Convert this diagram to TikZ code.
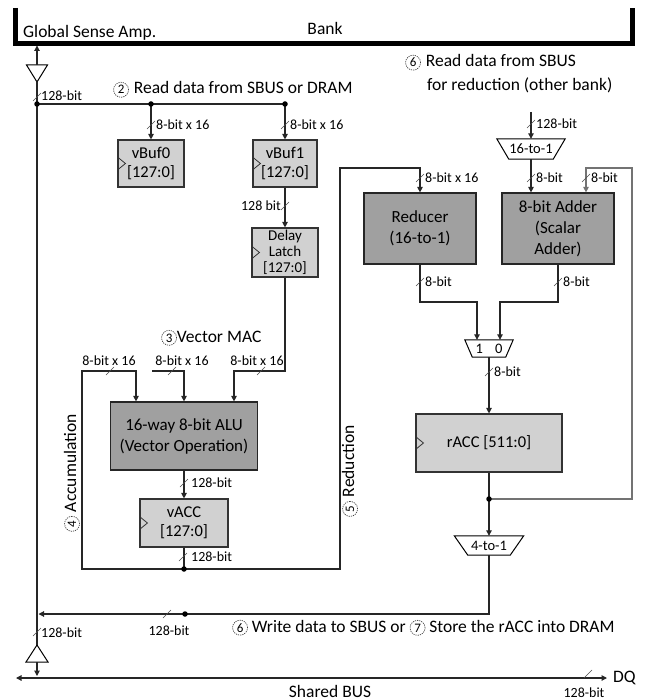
\documentclass[tikz,border=0pt]{standalone}
\usepackage{fontspec}
\setmainfont{Carlito}
\usetikzlibrary{arrows.meta,calc}
\definecolor{lfill}{RGB}{209,209,209}
\definecolor{dfill}{RGB}{160,160,160}
\newcommand\cn[1]{\tikz[baseline=(cc.base)]\node[circle,draw=black!75,line width=0.7pt,dash pattern=on 1.2pt off 1pt,inner sep=0pt,minimum size=15pt,font=\fontsize{13}{13}\selectfont](cc){#1};}
\newcommand\bsl[2]{\draw[slash] (#1-4,#2+4) -- (#1+4,#2-4);}
\newcommand\clk[1]{\draw[line width=0.8pt,black!80] ($(#1.west)+(0,-6.5)$) -- ($(#1.west)+(8,0)$) -- ($(#1.west)+(0,6.5)$);}
\begin{document}
\begin{tikzpicture}[x=1pt,y=-1pt,
 wire/.style={line width=1.1pt,draw=black!85},
 arr/.style={wire,-{Triangle[length=5.5pt,width=5.5pt]}},
 lbox/.style={draw=black!80,line width=1.1pt,fill=lfill,align=center,inner sep=0pt,font=\fontsize{16.5}{19}\selectfont},
 dbox/.style={draw=black!85,line width=1.2pt,fill=dfill,align=center,inner sep=0pt,font=\fontsize{17}{21}\selectfont},
 blbl/.style={font=\fontsize{14}{14}\selectfont,inner sep=0pt},
 txt/.style={font=\fontsize{17.5}{20}\selectfont,inner sep=0pt},
 dot/.style={circle,fill=black,inner sep=0pt,minimum size=5.5pt},
 slash/.style={line width=0.6pt,draw=black!70},
 mux/.style={inner sep=0pt,font=\fontsize{14.5}{15}\selectfont}]

\useasboundingbox (0,0) rectangle (649,700);

% Bank bar
\draw[line width=4.5pt] (15.5,8) -- (15.5,43.5) -- (632.5,43.5) -- (632.5,8);
\node[txt,anchor=base west] (gsatxt) at (23,38) {Global Sense Amp.};
\node[txt,anchor=base] (banktxt) at (325,35) {Bank};

% top texts
\node[txt,anchor=base west] (t2) at (113,94) {\cn{2}\hspace{5pt}Read data from SBUS or DRAM};
\node[txt,anchor=base west] (t6a) at (405,67) {\cn{6}\hspace{5pt}Read data from SBUS};
\node[txt,anchor=base west] (t6b) at (427,91) {for reduction (other bank)};
\node[txt,anchor=base west] (t3) at (161,342) {\cn{3}Vector MAC};
\node[txt,anchor=base west] (t67) at (232,632) {\cn{6} Write data to SBUS or \cn{7} Store the rACC into DRAM};
\node[txt,rotate=90] (t4) at (72,473) {\cn{4} Accumulation};
\node[txt,rotate=90] (t5) at (350,471) {\cn{5} Reduction};
\node[txt,anchor=base] (shb) at (330,697) {Shared BUS};
\node[txt,anchor=west] (dq) at (613,678) {DQ};

% boxes
\node[lbox,minimum width=66pt,minimum height=47pt] (vbuf0) at (151,163.5) {vBuf0\\{}[127:0]};
\node[lbox,minimum width=64pt,minimum height=47pt] (vbuf1) at (285,163.5) {vBuf1\\{}[127:0]};
\node[lbox,minimum width=66pt,minimum height=49pt,font=\fontsize{15}{16}\selectfont] (dlatch) at (285,252.5) {Delay\\Latch\\{}[127:0]};
\node[dbox,minimum width=147pt,minimum height=68pt] (alu) at (184,436) {16-way 8-bit ALU\\(Vector Operation)};
\node[lbox,minimum width=88pt,minimum height=48pt] (vacc) at (184,523) {vACC\\{}[127:0]};
\node[dbox,minimum width=112pt,minimum height=71pt] (reducer) at (420,228.5) {Reducer\\(16-to-1)};
\node[dbox,minimum width=112pt,minimum height=71pt] (adder) at (558,228.5) {8-bit Adder\\(Scalar\\Adder)};
\node[lbox,minimum width=146pt,minimum height=58pt] (racc) at (489,443) {rACC [511:0]};
\clk{vbuf0}\clk{vbuf1}\clk{dlatch}\clk{vacc}\clk{racc}

% muxes
\node[mux,minimum width=68pt,minimum height=20pt] (m16) at (531,149) {16-to-1};
\draw[line width=1pt] (m16.north west) -- (m16.north east) -- ($(m16.south east)+(-12,0)$) -- ($(m16.south west)+(12,0)$) -- cycle;
\node[mux,minimum width=48pt,minimum height=17pt] (m10) at (489,348.5) {1\hspace{12pt}0};
\draw[line width=1pt] (m10.north west) -- (m10.north east) -- ($(m10.south east)+(-7.5,0)$) -- ($(m10.south west)+(7.5,0)$) -- cycle;
\node[mux,minimum width=69pt,minimum height=19pt] (m4) at (489,545.5) {4-to-1};
\draw[line width=1pt] (m4.north west) -- (m4.north east) -- ($(m4.south east)+(-13.5,0)$) -- ($(m4.south west)+(13.5,0)$) -- cycle;

% buffers
\coordinate (bt) at (37,65);
\coordinate (ba) at (37,82);
\draw[line width=1pt] (26.5,65) -- (47.5,65) -- (ba) -- cycle;
\coordinate (bb) at (37,645);
\coordinate (bbase) at (37,662);
\draw[line width=1pt] (26,662) -- (48,662) -- (bb) -- cycle;

% left bus
\coordinate (gsa) at (37,45.5);
\draw[arr] (bt) -- (gsa);
\draw[wire] (ba) -- (bb);
\coordinate (sb) at (37,676);
\draw[arr] (bbase) -- (sb);
\coordinate (sbl) at (16,678);
\coordinate (sbr) at (607,678);
\draw[wire,{Triangle[length=5.5pt,width=5.5pt]}-{Triangle[length=5.5pt,width=5.5pt]}] (sbl) -- (sbr);

% read row
\coordinate (j0) at (37,104);
\coordinate (j1) at (151,104);
\coordinate (j2) at (285,104);
\draw[wire] (j0) -- (j2);
\draw[arr] (j1) -- (vbuf0.north);
\draw[arr] (j2) -- (vbuf1.north);
\draw[arr] (vbuf1.south) -- (dlatch.north);

% ALU inputs
\coordinate (c3a) at (285,371);
\coordinate (c3b) at (234,371);
\draw[arr] (dlatch.south) -- (c3a) -- (c3b) -- (c3b |- alu.north);
\coordinate (c2a) at (152,371);
\coordinate (c2b) at (184,371);
\draw[arr] (c2a) -- (c2b) -- (c2b |- alu.north);
\draw[arr] (alu.south) -- (vacc.north);
\coordinate (vd) at (184,569);
\draw[wire] (vacc.south) -- (vd);
\coordinate (acc1) at (82,569);
\coordinate (acc2) at (82,371);
\coordinate (acc3) at (136,371);
\draw[arr] (vd) -- (acc1) -- (acc2) -- (acc3) -- (acc3 |- alu.north);
\coordinate (red1) at (340,569);
\coordinate (red2) at (340,168);
\coordinate (red3) at (420,168);
\draw[arr] (vd) -- (red1) -- (red2) -- (red3) -- (red3 |- reducer.north);

% reduction path
\coordinate (sbin) at (531,112);
\draw[arr] (sbin) -- (m16.north);
\draw[arr] (m16.south) -- (m16.south |- adder.north);
\coordinate (rd) at (489,499);
\coordinate (fb1) at (632,499);
\coordinate (fb2) at (632,168);
\coordinate (fb3) at (586,168);
\draw[arr,draw=black!55] (rd) -- (fb1) -- (fb2) -- (fb3) -- (fb3 |- adder.north);
\coordinate (ro1) at (420,302);
\coordinate (ro2) at (477,302);
\draw[arr] (reducer.south) -- (ro1) -- (ro2) -- (ro2 |- m10.north);
\coordinate (ao1) at (558,302);
\coordinate (ao2) at (500,302);
\draw[arr] (adder.south) -- (ao1) -- (ao2) -- (ao2 |- m10.north);
\draw[arr] (m10.south) -- (racc.north);
\draw[wire] (racc.south) -- (rd);
\draw[arr] (rd) -- (m4.north);
\coordinate (o1) at (489,614);
\coordinate (o2) at (38.5,614);
\coordinate (od) at (185,614);
\draw[arr] (m4.south) -- (o1) -- (o2);

% dots
\node[dot] (dj0) at (j0) {};
\node[dot] (dj1) at (j1) {};
\node[dot] (dj2) at (j2) {};
\node[dot] (dvd) at (vd) {};
\node[dot] (drd) at (rd) {};
\node[dot] (dod) at (od) {};

% bus width labels
\bsl{37}{97} \node[blbl,anchor=west] (l1) at (41,96) {128-bit};
\bsl{151}{125} \node[blbl,anchor=west] (l2) at (156,125) {8-bit x 16};
\bsl{285}{125} \node[blbl,anchor=west] (l3) at (290,125) {8-bit x 16};
\bsl{285}{206} \node[blbl,anchor=east] (l4) at (281,206) {128 bit};
\node[blbl] (l5) at (109,361) {8-bit x 16};
\node[blbl] (l6) at (182,361) {8-bit x 16};
\node[blbl] (l7) at (257,361) {8-bit x 16};
\bsl{110}{371} \bsl{172}{371} \bsl{261}{371}
\bsl{184}{483} \node[blbl,anchor=west] (l8) at (191,483) {128-bit};
\bsl{183}{557} \node[blbl,anchor=west] (l9) at (191,557) {128-bit};
\bsl{420}{178} \node[blbl,anchor=west] (l10) at (425,178) {8-bit x 16};
\bsl{531}{124} \node[blbl,anchor=west] (l11) at (536,124) {128-bit};
\bsl{531}{178} \node[blbl,anchor=west] (l12) at (536,178) {8-bit};
\bsl{586}{178} \node[blbl,anchor=west] (l13) at (591,178) {8-bit};
\bsl{420}{282} \node[blbl,anchor=west] (l14) at (425,282) {8-bit};
\bsl{558}{282} \node[blbl,anchor=west] (l15) at (563,282) {8-bit};
\bsl{489}{372} \node[blbl,anchor=west] (l16) at (494,372) {8-bit};
\bsl{167}{614} \node[blbl] (l17) at (169,631) {128-bit};
\bsl{37}{632} \node[blbl,anchor=west] (l18) at (41,633) {128-bit};
\bsl{588}{674} \node[blbl] (l19) at (584,693) {128-bit};
\end{tikzpicture}
\end{document}
